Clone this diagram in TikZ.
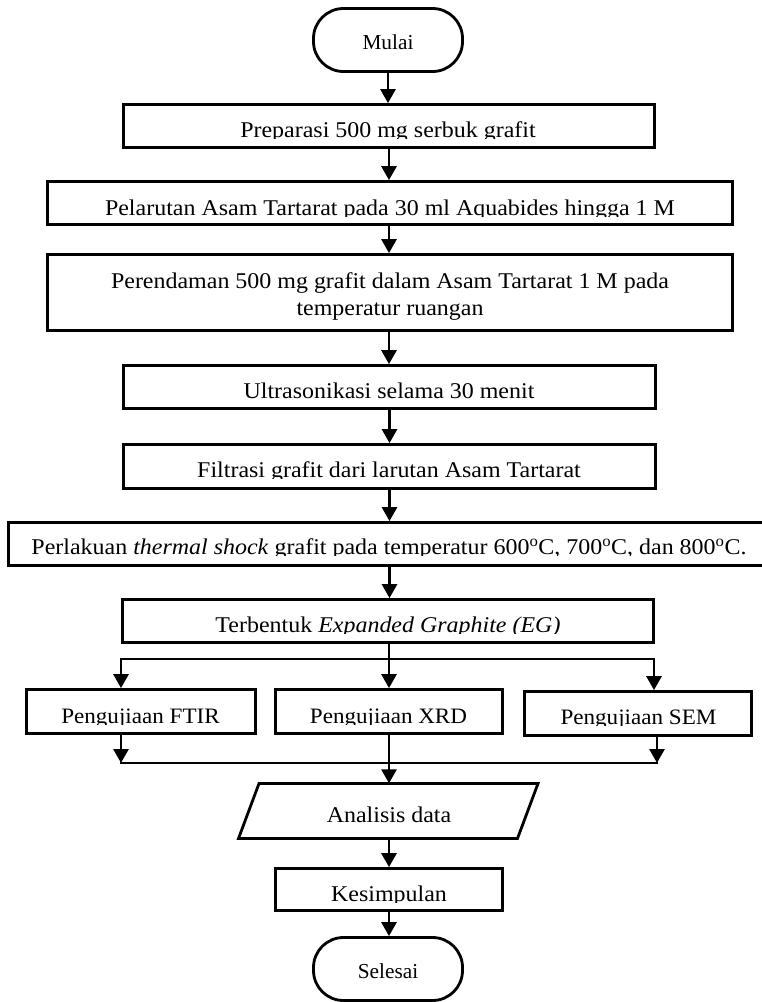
\documentclass[tikz,border=0pt]{standalone}
\usepackage{fontspec}
\setmainfont{Liberation Serif}
\newfontfamily\bxf{Liberation Serif}[FakeStretch=1.065]
\newfontfamily\sbxf{Liberation Serif}[FakeStretch=1.05]
\usetikzlibrary{arrows.meta}
\begin{document}
\begin{tikzpicture}[x=1pt,y=-1pt,
  box/.style={draw=black, line width=2.8pt, rectangle, inner sep=0pt},
  term/.style={draw=black, line width=2.8pt, rectangle, rounded corners=30pt, inner sep=0pt, minimum width=149pt, minimum height=63pt},
  txt/.style={anchor=base, inner sep=0pt, font=\bxf\fontsize{22.5}{27}\selectfont, align=center},
  stxt/.style={anchor=base, inner sep=0pt, font=\sbxf\fontsize{22}{26}\selectfont},
  ttxt/.style={anchor=base, inner sep=0pt, font=\fontsize{21.3}{25}\selectfont},
  ln/.style={line width=2.8pt},
  arr/.style={line width=2.8pt, -{Triangle[width=15pt,length=14pt]}}]
\useasboundingbox (0,0) rectangle (762,1002);

% shapes
\node[term] (start) at (388,40) {};
\node[box, minimum width=531pt, minimum height=43pt] (b1) at (389,126) {};
\node[box, minimum width=685pt, minimum height=43pt] (b2) at (390,203) {};
\node[box, minimum width=685pt, minimum height=76pt] (b3) at (390,292.5) {};
\node[box, minimum width=532pt, minimum height=43pt] (b4) at (389.5,387) {};
\node[box, minimum width=532pt, minimum height=44pt] (b5) at (389.5,466.5) {};
\node[box, minimum width=761pt, minimum height=43pt] (b6) at (389,544) {};
\node[box, minimum width=531pt, minimum height=43pt] (b7) at (388,621) {};
\node[box, minimum width=229pt, minimum height=44pt] (ftir) at (141,711.5) {};
\node[box, minimum width=227pt, minimum height=44pt] (xrd) at (389,711.5) {};
\node[box, minimum width=227pt, minimum height=44pt] (sem) at (638,713.5) {};
\node[minimum width=279pt, minimum height=55pt, inner sep=0pt] (ana) at (389,811) {};
\draw[ln] (259,783.5) -- (538,783.5) -- (517.5,838.5) -- (238.5,838.5) -- cycle;
\node[box, minimum width=227pt, minimum height=42pt] (kes) at (389,889.5) {};
\node[term] (stop) at (388,969) {};

% texts
\node[ttxt] (tstart) at (388,49) {Mulai};
\begin{scope}\clip (0,0) rectangle (762,138.5);
\node[txt] (t1) at (388,137) {Preparasi 500 mg serbuk grafit};
\end{scope}
\begin{scope}\clip (0,0) rectangle (762,216.5);
\node[txt] (t2) at (390,215) {Pelarutan Asam Tartarat pada 30 ml Aquabides hingga 1 M};
\end{scope}
\node[txt] (t3) at (390,315) {Perendaman 500 mg grafit dalam Asam Tartarat 1 M pada\\temperatur ruangan};
\node[txt] (t4) at (389,398) {Ultrasonikasi selama 30 menit};
\begin{scope}\clip (0,0) rectangle (762,478.5);
\node[txt] (t5) at (389,477) {Filtrasi grafit dari larutan Asam Tartarat};
\end{scope}
\begin{scope}\clip (0,0) rectangle (762,555.5);
\node[txt] (t6) at (389,554) {Perlakuan \textit{thermal shock} grafit pada temperatur 600\textsuperscript{o}C, 700\textsuperscript{o}C, dan 800\textsuperscript{o}C.};
\end{scope}
\begin{scope}\clip (0,0) rectangle (762,633.5);
\node[txt] (t7) at (388,632) {Terbentuk \textit{Expanded Graphite (EG)}};
\end{scope}
\begin{scope}\clip (0,0) rectangle (762,724.5);
\node[stxt] (tftir) at (140.5,723) {Pengujiaan FTIR};
\node[stxt] (txrd) at (388.5,723) {Pengujiaan XRD};
\end{scope}
\begin{scope}\clip (0,0) rectangle (762,725.5);
\node[stxt] (tsem) at (638.5,724) {Pengujiaan SEM};
\end{scope}
\node[txt] (tana) at (389,822) {Analisis data};
\begin{scope}\clip (0,0) rectangle (762,902.5);
\node[txt] (tkes) at (389,901) {Kesimpulan};
\end{scope}
\node[ttxt] (tstop) at (388,978) {Selesai};

% connectors
\draw[arr] (start.south) -- (start.south |- b1.north);
\draw[arr] (b1.south) -- (b1.south |- b2.north);
\draw[arr] (b1.south |- b2.south) -- (b1.south |- b3.north);
\draw[arr] (b1.south |- b3.south) -- (b1.south |- b4.north);
\draw[arr] (b4.south) -- (b4.south |- b5.north);
\draw[arr] (b5.south) -- (b5.south |- b6.north);
\draw[arr] (b5.south |- b6.south) -- (b5.south |- b7.north);
\coordinate (s1) at (389,659);
\coordinate (sL) at (121,659);
\coordinate (sR) at (654,659);
\draw[ln] (b7.south -| s1) -- (s1);
\draw[arr] (s1) -- (sL) -- (sL |- ftir.north);
\draw[arr] (s1) -- (sR) -- (sR |- sem.north);
\draw[arr] (s1) -- (s1 |- xrd.north);
\coordinate (mL) at (121,763);
\coordinate (mR) at (657,763);
\draw[ln, line cap=rect] (mL) -- (mR);
\draw[arr] (ftir.south -| mL) -- (mL);
\draw[arr] (sem.south -| mR) -- (mR);
\draw[arr] (xrd.south) -- (xrd.south |- ana.north);
\draw[arr] (ana.south) -- (ana.south |- kes.north);
\draw[arr] (kes.south) -- (kes.south |- stop.north);
\end{tikzpicture}
\end{document}
